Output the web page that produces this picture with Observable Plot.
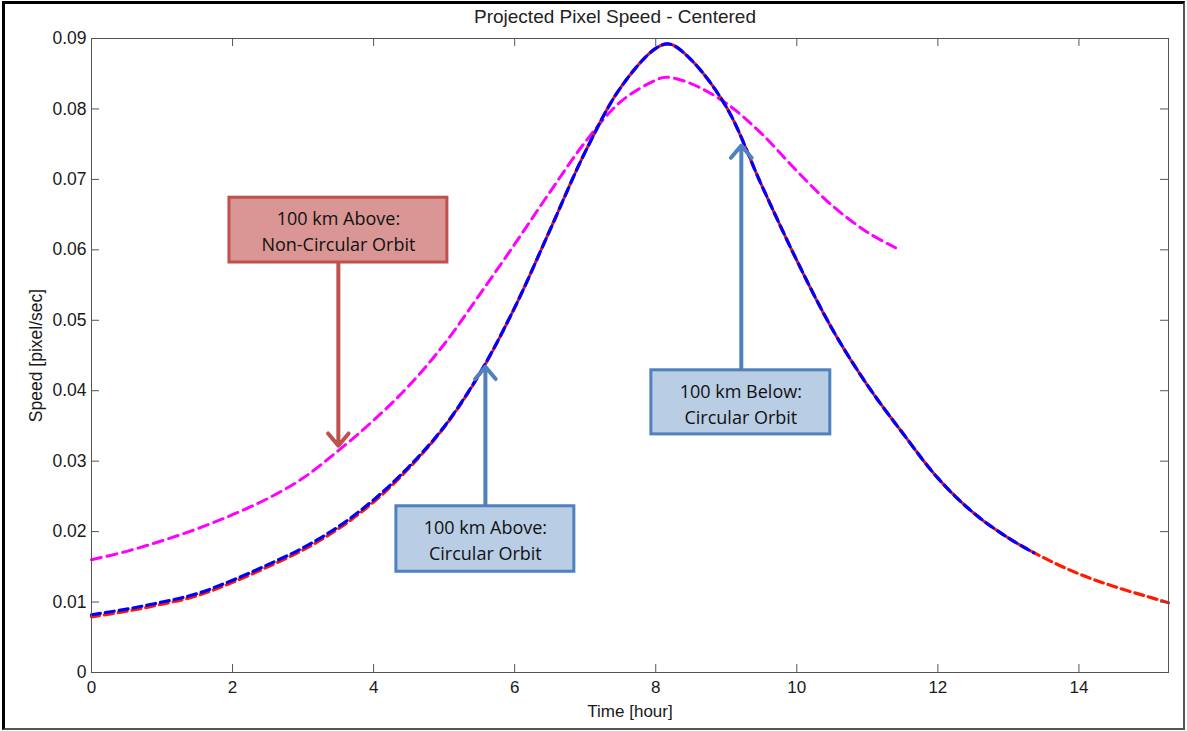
<!DOCTYPE html>
<html><head><meta charset="utf-8">
<script src="https://cdn.jsdelivr.net/npm/d3@7"></script>
<script src="https://cdn.jsdelivr.net/npm/@observablehq/plot@0.6"></script>
<style>
body{margin:0;background:#fff;}
#wrap{position:relative;width:1187px;height:731px;overflow:hidden;background:#fff;}
#border{position:absolute;left:2px;top:1px;width:1183px;height:729px;box-sizing:border-box;border-left:3px solid #000;border-top:3px solid #000;border-right:2px solid #555;border-bottom:2px solid #555;pointer-events:none;}
#title{position:absolute;top:6px;left:0;width:1230px;text-align:center;font:19px "Liberation Sans",Arial,sans-serif;color:#222;}
svg{position:absolute;left:0;top:0;}
</style></head><body><div id="wrap"><div id="title">Projected Pixel Speed - Centered</div><div id="border"></div></div>
<script>
// ---- data ----
const xTicks = [0, 2, 4, 6, 8, 10, 12, 14];
const yTicks = [0, 0.01, 0.02, 0.03, 0.04, 0.05, 0.06, 0.07, 0.08, 0.09];
const yTickLabels = ["0", "0.01", "0.02", "0.03", "0.04", "0.05", "0.06", "0.07", "0.08", "0.09"];

const tRed = [0,0.5,1,1.5,2,2.5,3,3.5,4,4.5,5,5.5,6,6.5,7,7.5,8,8.2,8.5,9,9.5,10,10.5,11,11.5,12,12.5,13,13.5,14,14.5,15,15.27];
const speedRed = [0.0079,0.0087,0.0097,0.0109,0.0128,0.0150,0.0174,0.0204,0.0242,0.0290,0.0348,0.0423,0.0518,0.0628,0.0739,0.0830,0.0886,0.0892,0.0870,0.0803,0.0692,0.0585,0.0488,0.0408,0.0340,0.0276,0.0227,0.0191,0.0163,0.0140,0.0122,0.0107,0.0099];

const tBlue = [0,0.5,1,1.5,2,2.5,3,3.5,4,4.5,5,5.5,6,6.5,7,7.5,8,8.2,8.5,9,9.5,10,10.5,11,11.5,12,12.5,13,13.36];
const speedBlue = [0.0082,0.0090,0.0100,0.0112,0.0131,0.0153,0.0177,0.0207,0.0245,0.0292,0.0349,0.0424,0.0518,0.0628,0.0739,0.0830,0.0886,0.0892,0.0870,0.0803,0.0692,0.0585,0.0488,0.0408,0.0340,0.0276,0.0227,0.0191,0.0170];

const tMag = [0,0.5,1,1.5,2,2.5,3,3.5,4,4.5,5,5.5,6,6.5,7,7.5,8,8.15,8.5,9,9.5,10,10.5,11,11.4];
const speedMag = [0.0160,0.0172,0.0187,0.0204,0.0224,0.0247,0.0276,0.0315,0.0358,0.0407,0.0466,0.0536,0.0608,0.0682,0.0753,0.0810,0.0841,0.0845,0.0836,0.0808,0.0765,0.0712,0.0663,0.0625,0.0603];

// annotations
const annLabel = ["100 km Above:\nNon-Circular Orbit", "100 km Above:\nCircular Orbit", "100 km Below:\nCircular Orbit"];
const annKind = ["nonCircular", "circular", "circular"];
const boxX1 = [1.956, 4.323, 7.938];
const boxX2 = [5.046, 6.846, 10.475];
const boxTop = [0.0674, 0.0236, 0.0429];
const boxBottom = [0.0582, 0.0143, 0.0338];
const arrowX = [3.50, 5.585, 9.213];
const arrowFrom = [0.0582, 0.0236, 0.0429];
const arrowTo = [0.0322, 0.0434, 0.0748];

// ---- build ----
const red = tRed.map((t, i) => ({t, v: speedRed[i]}));
const blue = tBlue.map((t, i) => ({t, v: speedBlue[i]}));
const mag = tMag.map((t, i) => ({t, v: speedMag[i]}));
const ann = annLabel.map((label, i) => ({
  label, kind: annKind[i], x1: boxX1[i], x2: boxX2[i], top: boxTop[i], bottom: boxBottom[i],
  ax: arrowX[i], from: arrowFrom[i], to: arrowTo[i]
}));
const fillOf = {nonCircular: "#d99694", circular: "#b9cde5"};
const strokeOf = {nonCircular: "#c0504d", circular: "#4f81bd"};

const W = 1187, H = 731, mL = 91, mR = 19, mT = 38, mB = 59;
const frameW = W - mL - mR, frameH = H - mT - mB, tick = 8;
const axisColor = "#555";

const chart = Plot.plot({
  width: W, height: H,
  marginLeft: mL, marginRight: mR, marginTop: mT, marginBottom: mB,
  style: {fontFamily: '"Liberation Sans", Arial, sans-serif', fontSize: "17px", color: "#1a1a1a", background: "transparent"},
  x: {domain: [0, 15.27]},
  y: {domain: [0, 0.09]},
  marks: [
    Plot.axisX(xTicks, {tickSize: 0, tickPadding: 8, label: "Time [hour]", labelAnchor: "center", labelArrow: "none", labelOffset: 44, fontSize: 17}),
    Plot.axisY(yTicks, {tickSize: 0, tickPadding: 5, tickFormat: (d) => yTickLabels[yTicks.indexOf(d)], label: "Speed [pixel/sec]", labelAnchor: "center", labelArrow: "none", labelOffset: 62, fontSize: 17.5}),
    Plot.line(mag, {x: "t", y: "v", stroke: "#ff00ff", strokeWidth: 3, strokeDasharray: "10,6", curve: "catmull-rom"}),
    Plot.line(red, {x: "t", y: "v", stroke: "#ff1a00", strokeWidth: 3.2, strokeDasharray: "9,5", strokeDashoffset: 1, curve: "catmull-rom"}),
    Plot.line(blue, {x: "t", y: "v", stroke: "#0000ff", strokeWidth: 3.2, strokeDasharray: "9,5", curve: "catmull-rom"}),
    Plot.frame({stroke: axisColor}),
    Plot.ruleX(xTicks, {x: d => d, stroke: axisColor, insetTop: frameH - tick}),
    Plot.ruleX(xTicks, {x: d => d, stroke: axisColor, insetBottom: frameH - tick}),
    Plot.ruleY(yTicks, {y: d => d, stroke: axisColor, insetRight: frameW - tick}),
    Plot.ruleY(yTicks, {y: d => d, stroke: axisColor, insetLeft: frameW - tick}),
    Plot.arrow(ann, {x1: "ax", y1: "from", x2: "ax", y2: "to", stroke: d => strokeOf[d.kind], strokeWidth: 4, headLength: 6, headAngle: 80}),
    Plot.rect(ann, {x1: "x1", x2: "x2", y1: "bottom", y2: "top", fill: d => fillOf[d.kind], stroke: d => strokeOf[d.kind], strokeWidth: 3}),
    Plot.text(ann, {x: d => (d.x1 + d.x2) / 2, y: d => (d.top + d.bottom) / 2, text: "label", lineAnchor: "middle", lineHeight: 1.45, fontFamily: '"Open Sans", sans-serif', fontSize: 18, fill: "#111"})
  ]
});
document.getElementById("wrap").insertBefore(chart, document.getElementById("title"));
</script>
</body></html>
